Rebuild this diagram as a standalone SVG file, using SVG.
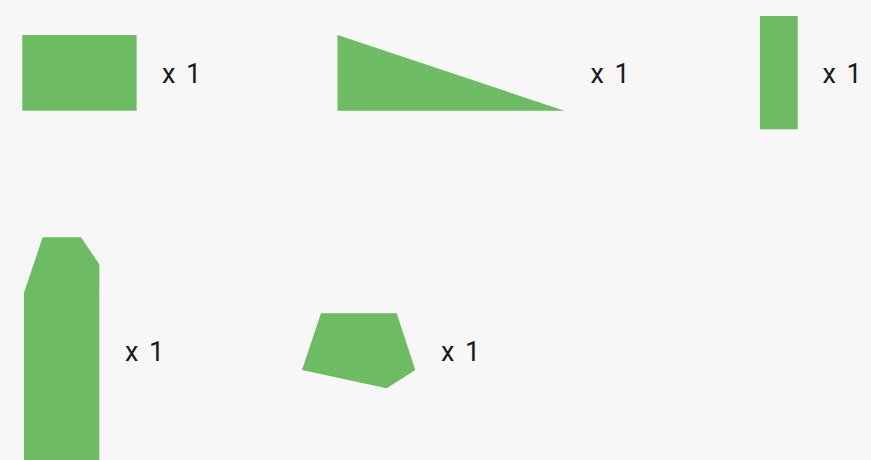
<svg xmlns="http://www.w3.org/2000/svg" width="871" height="460" viewBox="0 0 871 460">
<style>
.shape{fill:#6dbb63}
.lbl{font-family:Roboto,"Liberation Sans",sans-serif;font-size:27px;letter-spacing:2px;fill:#1a1a1a}
</style>
<rect width="871" height="460" fill="#f7f7f7"/>
<g id="piece1"><rect class="shape" x="22.3" y="35" width="114.3" height="75.7"/><text class="lbl" x="162" y="83.3">x 1</text></g>
<g id="piece2"><polygon class="shape" points="337.5,35 337.5,110.7 564.3,110.7"/><text class="lbl" x="590.5" y="83.3">x 1</text></g>
<g id="piece3"><rect class="shape" x="760" y="16" width="37.7" height="113.3"/><text class="lbl" x="822.5" y="83">x 1</text></g>
<g id="piece4"><polygon class="shape" points="42.7,237.3 81,237.3 99.3,264.3 99.3,470 24,470 24,292.7"/><text class="lbl" x="125" y="360.5">x 1</text></g>
<g id="piece5"><polygon class="shape" points="321,313.3 396.7,313.3 415.3,370 386.7,388.3 302,370"/><text class="lbl" x="441" y="361">x 1</text></g>
</svg>
